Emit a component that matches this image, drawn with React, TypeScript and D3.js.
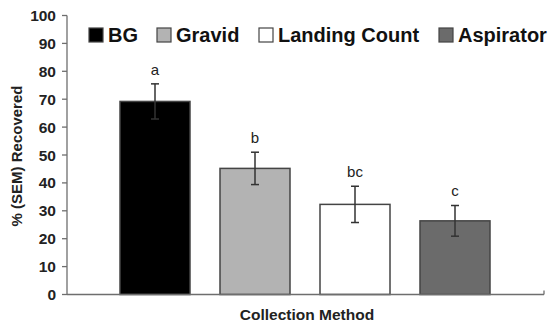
import React from "react";
import * as d3 from "d3";

const categories = ["BG", "Gravid", "Landing Count", "Aspirator"];
const values = [69.2, 45.2, 32.3, 26.4];
const sems = [6.3, 5.8, 6.5, 5.5];
const letters = ["a", "b", "bc", "c"];
const fills = ["#000000", "#b3b3b3", "#ffffff", "#6b6b6b"];
const yTicks = [0, 10, 20, 30, 40, 50, 60, 70, 80, 90, 100];

const W = 549;
const H = 324;
const axisLeft = 67;
const axisRight = 544;
const yTop = 15.5;
const yBottom = 294.5;

export default function App() {
  const x = d3.scaleBand<string>().domain(categories).range([105, 505]).paddingInner(0.3).paddingOuter(0.15);
  const y = d3.scaleLinear().domain([0, 100]).range([yBottom, yTop]);
  const font = "'Liberation Sans', Arial, sans-serif";
  const axisColor = "#6e6e6e";
  const legendX = [89, 157, 259, 439];

  return (
    <svg width={W} height={H} style={{ position: "absolute", left: 0, top: 0 }} fontFamily={font}>
      <rect width={W} height={H} fill="#fff" />
      {/* bars */}
      {categories.map((c, i) => (
        <rect
          key={c}
          x={x(c)!}
          y={y(values[i])}
          width={x.bandwidth()}
          height={y(0) - y(values[i])}
          fill={fills[i]}
          stroke="#444"
          strokeWidth={1.5}
        />
      ))}
      {/* error bars */}
      {categories.map((c, i) => {
        const cx = x(c)! + x.bandwidth() / 2;
        const top = y(values[i] + sems[i]);
        const bot = y(values[i] - sems[i]);
        return (
          <g key={"e" + c} stroke="#333" strokeWidth={1.5}>
            <line x1={cx} x2={cx} y1={top} y2={bot} />
            <line x1={cx - 4} x2={cx + 4} y1={top} y2={top} />
            <line x1={cx - 4} x2={cx + 4} y1={bot} y2={bot} />
            <text
              x={cx}
              y={top - 9}
              textAnchor="middle"
              fontSize={15}
              fill="#222"
              stroke="none"
            >
              {letters[i]}
            </text>
          </g>
        );
      })}
      {/* y axis */}
      <line x1={axisLeft} x2={axisLeft} y1={yTop} y2={yBottom} stroke={axisColor} strokeWidth={1.3} />
      {yTicks.map((t) => (
        <g key={t}>
          <line x1={axisLeft - 5} x2={axisLeft} y1={y(t)} y2={y(t)} stroke={axisColor} strokeWidth={1.3} />
          <text x={56} y={y(t)} dy="0.36em" textAnchor="end" fontSize={15.5} fontWeight="bold" fill="#222">
            {t}
          </text>
        </g>
      ))}
      {/* x axis */}
      <line x1={axisLeft} x2={axisRight} y1={yBottom} y2={yBottom} stroke={axisColor} strokeWidth={1.3} />
      <line x1={axisRight} x2={axisRight} y1={yBottom - 4} y2={yBottom} stroke={axisColor} strokeWidth={1.3} />
      {/* axis titles */}
      <text
        transform={`translate(17,156) rotate(-90)`}
        textAnchor="middle"
        dy="0.35em"
        fontSize={15}
        fontWeight="bold"
        fill="#222"
      >
        % (SEM) Recovered
      </text>
      <text x={307} y={315} dy="0.35em" textAnchor="middle" fontSize={15.5} fontWeight="bold" fill="#222">
        Collection Method
      </text>
      {/* legend */}
      {categories.map((c, i) => (
        <g key={"l" + c}>
          <rect x={legendX[i]} y={28} width={14} height={14} fill={fills[i]} stroke="#444" strokeWidth={1.2} />
          <text x={legendX[i] + 19} y={35} dy="0.36em" fontSize={20} fontWeight="bold" fill="#111">
            {c}
          </text>
        </g>
      ))}
    </svg>
  );
}
